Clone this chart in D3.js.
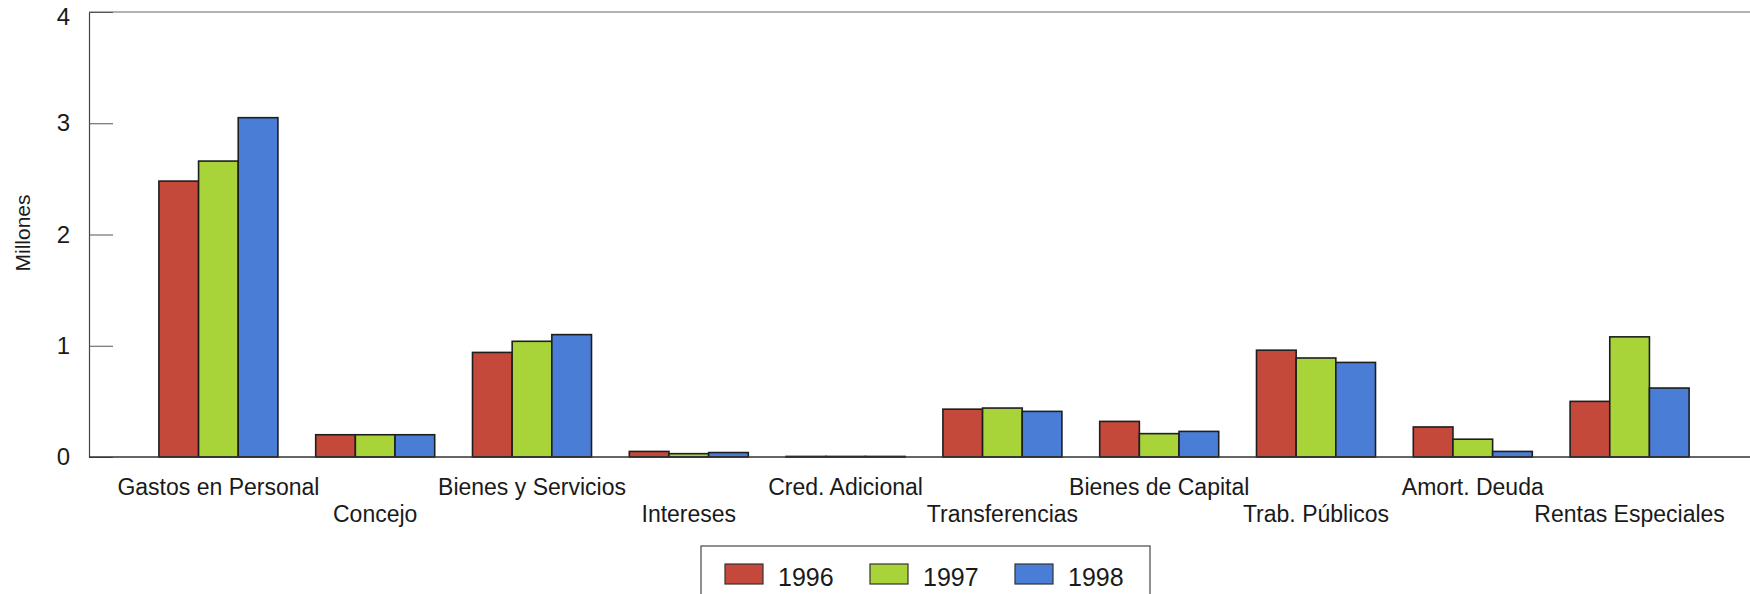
<!DOCTYPE html>
<html>
<head>
<meta charset="utf-8">
<script src="https://cdn.jsdelivr.net/npm/d3@7"></script>
<style>
  html, body { margin: 0; padding: 0; background: #ffffff; }
  svg { display: block; }
  text { font-family: "Liberation Sans", Arial, sans-serif; fill: #1a1a1a; }
</style>
</head>
<body>
<svg id="chart" width="1750" height="594"></svg>
<script>
const categories = ["Gastos en Personal", "Concejo", "Bienes y Servicios", "Intereses", "Cred. Adicional",
  "Transferencias", "Bienes de Capital", "Trab. Públicos", "Amort. Deuda", "Rentas Especiales"];
const seriesNames = ["1996", "1997", "1998"];
const values1996 = [2.48, 0.20, 0.94, 0.05, 0.005, 0.43, 0.32, 0.96, 0.27, 0.50];
const values1997 = [2.66, 0.20, 1.04, 0.03, 0.005, 0.44, 0.21, 0.89, 0.16, 1.08];
const values1998 = [3.05, 0.20, 1.10, 0.04, 0.005, 0.41, 0.23, 0.85, 0.05, 0.62];
const yTicks = [0, 1, 2, 3, 4];
const colors = ["#c4493a", "#a8d43a", "#4a7ed6"];

const seriesValues = [values1996, values1997, values1998];
const svg = d3.select("#chart");

const axisLeftX = 89, plotRight = 1750, yTop = 12, yBase = 457;

const y = d3.scaleLinear().domain([0, 4]).range([yBase, yTop]);
const x0 = d3.scaleBand().domain(categories).range([140, 1708]).padding(0);
const groupW = 119;
const x1 = d3.scaleBand().domain(seriesNames)
  .range([(x0.bandwidth() - groupW) / 2, (x0.bandwidth() + groupW) / 2]).padding(0);

// top border
svg.append("line").attr("x1", axisLeftX).attr("x2", plotRight).attr("y1", yTop).attr("y2", yTop)
  .attr("stroke", "#666").attr("stroke-width", 1.2);

// bars
const groups = svg.append("g").selectAll("g").data(categories).join("g")
  .attr("transform", d => `translate(${x0(d)},0)`);
groups.selectAll("rect")
  .data((c, i) => seriesNames.map((s, k) => ({ s, k, v: seriesValues[k][i] })))
  .join("rect")
  .attr("x", d => x1(d.s))
  .attr("y", d => y(d.v))
  .attr("width", x1.bandwidth())
  .attr("height", d => yBase - y(d.v))
  .attr("fill", d => colors[d.k])
  .attr("stroke", "#1e1e1e")
  .attr("stroke-width", 1.6);

// y axis
const yAxis = d3.axisLeft(y).tickValues(yTicks).tickFormat(d3.format("d"))
  .tickSizeInner(-24).tickSizeOuter(0).tickPadding(19);
const gy = svg.append("g").attr("transform", `translate(${axisLeftX},0)`).call(yAxis);
gy.select(".domain").attr("stroke", "#444").attr("stroke-width", 1.2);
gy.selectAll(".tick line").attr("stroke", "#555").attr("stroke-width", 1);
gy.selectAll(".tick text").attr("font-size", 24).attr("fill", "#1a1a1a")
  .attr("font-family", "Liberation Sans, Arial, sans-serif")
  .attr("y", d => d === 4 ? 5 : 0);

// baseline
svg.append("line").attr("x1", axisLeftX).attr("x2", plotRight).attr("y1", yBase).attr("y2", yBase)
  .attr("stroke", "#333").attr("stroke-width", 1.6);

// category labels (staggered)
const xAxis = d3.axisBottom(x0).tickSize(0).tickPadding(0);
const gx = svg.append("g").attr("transform", `translate(0,${yBase})`).call(xAxis);
gx.select(".domain").remove();
gx.selectAll(".tick text")
  .attr("font-size", 23)
  .attr("fill", "#1a1a1a")
  .attr("font-family", "Liberation Sans, Arial, sans-serif")
  .attr("dy", null)
  .attr("y", (d, i) => i % 2 === 0 ? 38 : 65);

// y label
svg.append("text")
  .attr("transform", `translate(22,233) rotate(-90)`)
  .attr("text-anchor", "middle")
  .attr("dominant-baseline", "central")
  .attr("font-size", 21)
  .text("Millones");

// legend
const legend = svg.append("g");
legend.append("rect").attr("x", 701).attr("y", 546).attr("width", 449).attr("height", 70)
  .attr("fill", "#fff").attr("stroke", "#555").attr("stroke-width", 1.3);
const legendX = d3.scalePoint().domain(seriesNames).range([725, 1015]);
const items = legend.selectAll("g.item").data(seriesNames).join("g").attr("class", "item")
  .attr("transform", d => `translate(${legendX(d)},0)`);
items.append("rect").attr("x", 0).attr("y", 564).attr("width", 38).attr("height", 20)
  .attr("fill", (d, i) => colors[i]).attr("stroke", "#333").attr("stroke-width", 1.2);
items.append("text").attr("x", 53).attr("y", 586).attr("font-size", 25).text(d => d);
</script>
</body>
</html>
